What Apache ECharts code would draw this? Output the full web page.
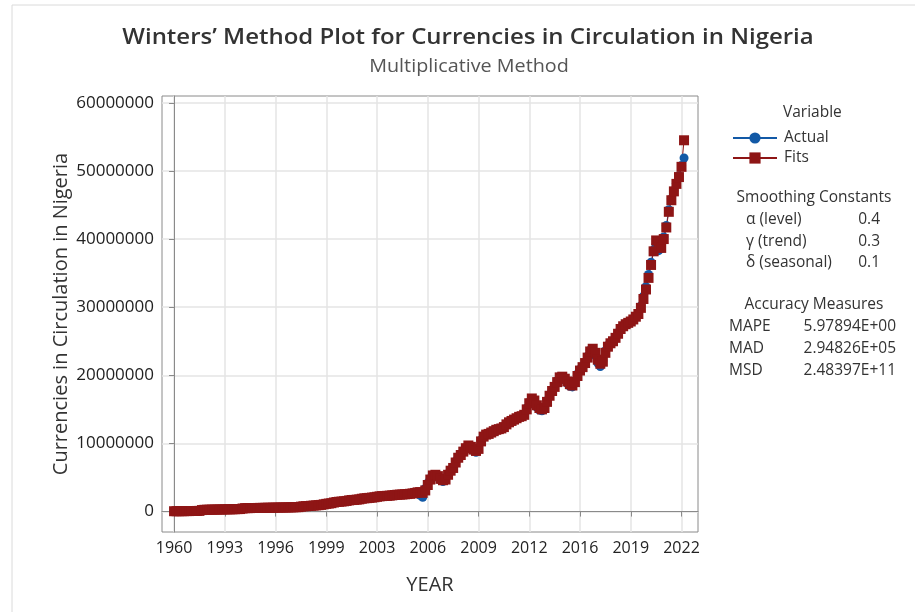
<!DOCTYPE html>
<html>
<head>
<meta charset="utf-8">
<title>Winters' Method Plot</title>
<script src="https://cdn.jsdelivr.net/npm/echarts@6/dist/echarts.min.js"></script>
<style>
  html, body { margin: 0; padding: 0; background: #fff; }
  #chart { width: 915px; height: 612px; }
</style>
</head>
<body>
<div id="chart"></div>
<script>
// tick labels on the x axis (one every 40 months)
const yearLabels = ['1960', '1993', '1996', '1999', '2003', '2006', '2009', '2012', '2016', '2019', '2022'];
const yTicks = [0, 10, 20, 30, 40, 50, 60]; // millions

// values in millions, one every 2 months
const actual = [
  0.05, 0.05, 0.06, 0.06, 0.07, 0.07, 0.08, 0.08, 0.09, 0.10, 0.11,
  0.26, 0.27, 0.27, 0.28, 0.29, 0.30, 0.30, 0.31, 0.32, 0.33, 0.33, 0.34, 0.35, 0.36, 0.37, 0.38,
  0.50, 0.50, 0.51, 0.52, 0.52, 0.53, 0.54, 0.54, 0.55, 0.56, 0.56, 0.57, 0.58, 0.58, 0.59, 0.60, 0.60, 0.61, 0.62, 0.63, 0.64, 0.65, 0.66,
  0.75, 0.78, 0.80, 0.83, 0.86, 0.88, 0.92, 0.95, 1.00,
  1.10, 1.15, 1.20, 1.25,
  1.38, 1.42, 1.45, 1.48, 1.52, 1.58,
  1.68, 1.70, 1.72, 1.76, 1.80,
  1.92, 1.95, 1.98, 2.02, 2.06, 2.12, 2.20,
  2.25, 2.28, 2.30, 2.32, 2.35, 2.40,
  2.45, 2.48, 2.50, 2.52, 2.55, 2.58, 2.62, 2.68, 2.75, 2.85,
  2.40, 2.10, 3.40,
  4.2, 4.9, 5.3, 5.2, 5.0, 4.6, 4.4, 4.8, 5.6, 6.1,
  6.5, 7.4, 8.0, 8.3, 8.9, 9.4, 9.6, 9.3, 8.9, 8.7,
  9.4, 10.5, 11.1, 11.2, 11.3, 11.6, 11.8, 11.9, 12.0, 12.1,
  12.5, 12.9, 13.2, 13.3, 13.4, 13.7, 13.8, 13.9, 14.3, 15.2,
  16.1, 16.6, 16.0, 15.3, 14.9, 14.8, 15.2, 16.3, 17.1, 17.8,
  18.4, 19.2, 19.8, 19.6, 19.3, 18.8, 18.4, 18.3, 19.2, 20.2,
  20.9, 21.3, 21.9, 22.8, 23.7, 23.8, 22.9, 21.8, 21.3, 22.1,
  23.6, 24.4, 24.7, 25.0, 25.6, 26.3, 26.9, 27.2, 27.4, 27.6,
  27.9, 28.2, 28.7, 29.2, 30.2, 31.6, 33.0, 34.8, 36.6, 38.4,
  39.2, 38.3, 38.6, 40.3, 42.0, 44.3, 45.9, 47.1, 48.2, 49.3,
  50.8, 51.9
];

const fits = [
  0.05, 0.05, 0.05, 0.06, 0.06, 0.07, 0.07, 0.08, 0.08, 0.09, 0.10,
  0.22, 0.26, 0.27, 0.27, 0.28, 0.29, 0.30, 0.30, 0.31, 0.32, 0.33, 0.33, 0.34, 0.35, 0.36, 0.37,
  0.45, 0.50, 0.50, 0.51, 0.52, 0.52, 0.53, 0.54, 0.54, 0.55, 0.56, 0.56, 0.57, 0.58, 0.58, 0.59, 0.60, 0.60, 0.61, 0.62, 0.63, 0.64, 0.65,
  0.72, 0.77, 0.79, 0.82, 0.85, 0.88, 0.91, 0.94, 0.98,
  1.06, 1.13, 1.18, 1.23,
  1.33, 1.40, 1.44, 1.47, 1.51, 1.56,
  1.64, 1.69, 1.71, 1.75, 1.79,
  1.88, 1.94, 1.97, 2.01, 2.05, 2.10, 2.17,
  2.23, 2.27, 2.29, 2.31, 2.34, 2.38,
  2.43, 2.47, 2.49, 2.51, 2.54, 2.57, 2.61, 2.66, 2.73, 2.82,
  2.85, 2.75, 3.10,
  3.9, 4.7, 5.3, 5.4, 5.2, 4.8, 4.6, 4.7, 5.4, 6.0,
  6.4, 7.2, 7.9, 8.3, 8.8, 9.3, 9.7, 9.5, 9.1, 8.9,
  9.2, 10.3, 11.0, 11.3, 11.4, 11.6, 11.8, 12.0, 12.1, 12.2,
  12.4, 12.8, 13.1, 13.3, 13.5, 13.7, 13.9, 14.0, 14.2, 15.0,
  15.9, 16.6, 16.3, 15.6, 15.2, 15.0, 15.2, 16.1, 17.0, 17.7,
  18.3, 19.0, 19.7, 19.8, 19.5, 19.1, 18.7, 18.5, 19.0, 19.9,
  20.7, 21.2, 21.8, 22.6, 23.5, 23.9, 23.3, 22.3, 21.7, 22.0,
  23.3, 24.2, 24.7, 25.0, 25.5, 26.1, 26.8, 27.2, 27.5, 27.7,
  27.9, 28.2, 28.6, 29.0, 29.9, 31.2, 32.6, 34.3, 36.2, 38.2,
  39.8, 39.6, 38.7, 40.0, 41.7, 44.0, 45.7, 47.0, 48.1, 49.1,
  50.6, 54.5
];

// smoothing constants and accuracy measures
const constNames = ['α (level)', 'γ (trend)', 'δ (seasonal)'];
const constValues = ['0.4', '0.3', '0.1'];
const measureNames = ['MAPE', 'MAD', 'MSD'];
const measureValues = ['5.97894E+00', '2.94826E+05', '2.48397E+11'];

const FONT = '"Open Sans", "Noto Sans", sans-serif';
const SIDE = '15.5px ' + FONT;
const monthStep = 2;
const labelEvery = 40;
const xTicks = yearLabels.map((_, i) => i * labelEvery);

const chart = echarts.init(document.getElementById('chart'), null, { renderer: 'canvas' });

function txt (text, x, y, opts, extra) {
  return Object.assign({
    type: 'text',
    x: x,
    y: y,
    silent: true,
    style: Object.assign({
      text: text,
      font: SIDE,
      fill: '#333',
      align: 'left',
      verticalAlign: 'middle'
    }, opts || {})
  }, extra || {});
}

const graphics = [
  // thin frame of the original window
  { type: 'rect', shape: { x: 12, y: 5, width: 920, height: 620 }, style: { fill: 'none', stroke: '#dadada', lineWidth: 1 }, silent: true },
  txt('Winters\u2019 Method Plot for Currencies in Circulation in Nigeria', 468, 38,
    { font: '600 22px ' + FONT, fill: '#333', align: 'center' }, { scaleX: 1.09 }),
  txt('Multiplicative Method', 469, 67, { font: '19px ' + FONT, fill: '#555', align: 'center' }, { scaleX: 1.04 }),
  txt('Variable', 783, 113),
  txt('Smoothing Constants', 814, 198, { align: 'center' }),
  txt('Accuracy Measures', 814, 305, { align: 'center' })
];
constNames.forEach((n, i) => {
  graphics.push(txt(n, 746, 220 + i * 21.5));
  graphics.push(txt(constValues[i], 880, 220 + i * 21.5, { align: 'right' }));
});
measureNames.forEach((n, i) => {
  graphics.push(txt(n, 729, 327 + i * 22));
  graphics.push(txt(measureValues[i], 896, 327 + i * 22, { align: 'right' }));
});

const option = {
  animation: false,
  backgroundColor: '#fff',
  textStyle: { fontFamily: FONT },
  grid: {
    left: 162, right: 217, top: 96, bottom: 80,
    show: true, borderColor: '#8a8a8a', borderWidth: 1, backgroundColor: '#fff'
  },
  legend: {
    data: ['Actual', 'Fits'],
    orient: 'vertical',
    left: 727,
    top: 125,
    itemWidth: 44,
    itemHeight: 14,
    itemGap: 4,
    textStyle: { fontSize: 15.5, color: '#333', padding: [0, 0, 0, 2] }
  },
  xAxis: {
    type: 'value',
    min: -9.5,
    max: 413,
    name: 'YEAR',
    nameLocation: 'middle',
    nameGap: 43,
    nameMoveOverlap: false,
    nameTextStyle: { fontSize: 20, color: '#333' },
    axisLine: { show: true, lineStyle: { color: '#8a8a8a' } },
    axisTick: { show: true, length: 5, customValues: xTicks, lineStyle: { color: '#8a8a8a' } },
    axisLabel: {
      customValues: xTicks,
      fontSize: 16,
      color: '#222',
      margin: 8,
      formatter: v => yearLabels[xTicks.indexOf(v)]
    },
    splitLine: { show: true, lineStyle: { color: '#e4e4e4', width: 1.5 } }
  },
  yAxis: {
    type: 'value',
    min: -3,
    max: 61,
    name: 'Currencies in Circulation in Nigeria',
    nameLocation: 'middle',
    nameGap: 91,
    nameMoveOverlap: false,
    nameTextStyle: { fontSize: 20, color: '#333' },
    axisLine: { show: true, lineStyle: { color: '#8a8a8a' } },
    axisTick: { show: true, length: 5, customValues: yTicks, lineStyle: { color: '#8a8a8a' } },
    axisLabel: {
      customValues: yTicks,
      fontSize: 17,
      color: '#222',
      margin: 8,
      formatter: v => String(Math.round(v * 1000000))
    },
    splitLine: { show: true, lineStyle: { color: '#e4e4e4', width: 1.5 } }
  },
  series: [
    {
      name: 'Actual',
      type: 'line',
      data: actual.map((v, i) => [i * monthStep, v]),
      symbol: 'circle',
      symbolSize: 9,
      itemStyle: { color: '#1259a6' },
      lineStyle: { color: '#1259a6', width: 1 }
    },
    {
      name: 'Fits',
      type: 'line',
      data: fits.map((v, i) => [i * monthStep, v]),
      symbol: 'rect',
      symbolSize: 10,
      itemStyle: { color: '#8e1515' },
      lineStyle: { color: '#8e1515', width: 1 }
    }
  ],
  graphic: graphics
};

chart.setOption(option);
</script>
</body>
</html>
